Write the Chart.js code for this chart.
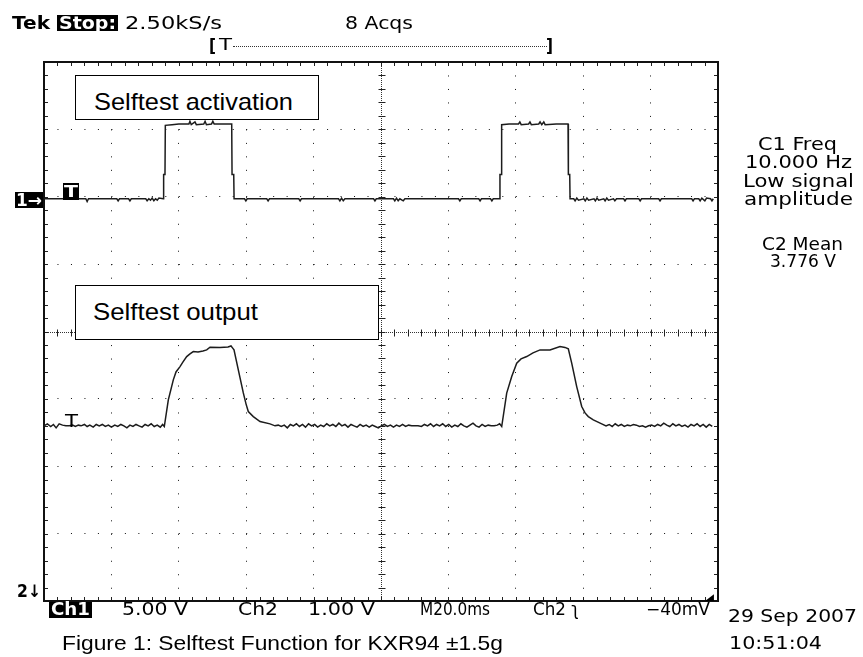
<!DOCTYPE html>
<html><head><meta charset="utf-8">
<script src="https://cdn.jsdelivr.net/npm/chart.js@4/dist/chart.umd.min.js"></script>
<style>
html,body{margin:0;padding:0;background:#fff;}
#wrap{position:relative;width:863px;height:657px;overflow:hidden;background:#fff;}
#c{position:absolute;left:0;top:0;}
.t{position:absolute;white-space:nowrap;line-height:1;transform-origin:0 0;color:#000;}
.blk{position:absolute;background:#000;}
.box{position:absolute;background:#fff;border:1.5px solid #000;box-sizing:border-box;}
.dots{position:absolute;border-top:1px dotted #333;height:0;}
</style></head>
<body><div id="wrap"><canvas id="c" width="863" height="657"></canvas></div>
<script>
// ---------------- data (time in ms, level in screen divisions) ----------------
const ch1Ms = [0,5,9,12.4,12.8,13.2,17,21.6,22,22.4,25.1,25.5,25.9,30.2,30.6,31.1,31.6,32.1,32.6,33.1,33.6,34.1,35.4,35.5,35.9,36.0,38,40,43,43.3,43.7,44.8,45.2,47.4,47.8,48.2,49.7,50.1,50.5,53,55.7,55.8,56.3,56.4,59.5,59.9,60.3,66.1,66.5,66.9,75.6,76,76.4,80,87.4,87.8,88.3,88.8,89.3,97.8,98.2,98.6,103.7,104.1,104.6,105.1,105.6,106.6,107.1,115,123,123.4,123.8,129,129.4,129.8,132.5,132.9,133.3,135.2,135.3,135.7,135.8,138,140.8,141.2,141.6,143.8,144.2,144.6,146.8,147.2,147.7,148.3,148.7,152,155.5,155.6,156.0,156.1,157.2,157.6,158.1,158.6,160.2,160.6,161.1,161.6,163.2,163.6,164.1,164.6,166.1,166.5,167,167.5,169,169.4,169.9,172,172.4,172.8,176.5,176.9,177.3,182.4,182.8,183.2,192.2,192.6,193,194.3,194.7,195.2,196.1,196.6,197.8,198.2,198.6];
const ch1Div = [1.97,1.97,1.97,1.97,1.93,1.97,1.97,1.97,1.94,1.97,1.97,1.94,1.97,1.97,1.94,1.97,1.95,1.98,1.94,1.97,1.95,1.98,1.97,2.33,2.33,3.06,3.07,3.08,3.08,3.12,3.07,3.11,3.07,3.08,3.12,3.07,3.08,3.12,3.08,3.08,3.08,2.33,2.33,1.97,1.97,1.94,1.97,1.97,1.94,1.97,1.97,1.94,1.97,1.97,1.97,1.94,1.98,1.94,1.97,1.97,1.94,1.97,1.97,1.94,1.98,1.94,1.97,1.94,1.97,1.97,1.97,1.94,1.97,1.97,1.94,1.97,1.97,1.94,1.97,1.97,2.33,2.33,3.07,3.08,3.08,3.11,3.07,3.08,3.11,3.07,3.08,3.11,3.07,3.11,3.07,3.08,3.08,2.33,2.33,1.97,1.97,1.94,1.98,1.95,1.97,1.94,1.98,1.95,1.97,1.94,1.98,1.95,1.97,1.94,1.98,1.95,1.97,1.94,1.97,1.97,1.94,1.97,1.97,1.94,1.97,1.97,1.94,1.97,1.97,1.94,1.97,1.97,1.94,1.98,1.94,1.98,1.97,1.94,1.97];

const ch2Ms = [0,1,2,2.8,3.6,4.5,5.5,6.5,7.5,8.5,9.3,10.2,11,12,12.8,13.6,14.6,15.5,16.4,17.3,18.2,19.1,20,21,21.9,22.8,23.7,24.6,25.5,26.4,27.3,28.2,29.1,30,30.9,31.8,32.7,33.6,34.5,35.2,35.7,
  36.89,38.37,39.17,40.36,41.25,42.34,43.32,44.30,45.70,47.18,48.28,49.26,52.23,54.60,55.49,55.94,56.38,57.66,59.14,59.94,60.62,62.11,64.10,67.06,
  68.55,69.5,70.4,71.3,72.2,73.1,74,74.9,75.8,76.7,77.6,78.5,79.4,80.3,81.2,82.1,83,83.9,84.8,85.7,86.6,87.5,88.4,89.3,90.2,91.1,92,92.9,93.8,94.7,95.6,96.5,97.4,98.3,99.2,100.1,101,101.9,102.8,103.7,104.6,105.5,106.4,107.3,108.2,109.1,110,111,112,112.9,113.8,114.7,115.6,116.5,117.4,118.3,119.2,120.1,121,121.9,122.8,123.7,124.6,125.5,126.4,127.3,128.2,129.1,130,130.9,131.8,132.7,133.6,134.5,135.2,135.82,
  137.30,138.79,140.27,141.55,143.24,145.11,147.19,150.15,153.12,154.60,155.58,156.59,158.07,159.56,160.54,161.52,163.00,165.49,
  166.77,167.7,168.6,169.5,170.4,171.3,172.2,173.1,174,174.9,175.8,176.7,177.6,178.5,179.4,180.3,181.2,182.1,183,183.9,184.8,185.7,186.6,187.5,188.4,189.3,190.2,191.1,192,192.9,193.8,194.7,195.6,196.5,197.4,198.3];
const ch2Div = [-1.40,-1.37,-1.41,-1.38,-1.43,-1.37,-1.39,-1.40,-1.40,-1.39,-1.41,-1.39,-1.40,-1.38,-1.41,-1.39,-1.42,-1.38,-1.40,-1.38,-1.41,-1.39,-1.42,-1.39,-1.41,-1.38,-1.40,-1.43,-1.39,-1.41,-1.38,-1.40,-1.42,-1.38,-1.40,-1.37,-1.41,-1.39,-1.42,-1.38,-1.41,
  -1.015,-0.718,-0.60,-0.521,-0.451,-0.372,-0.332,-0.298,-0.303,-0.288,-0.273,-0.233,-0.236,-0.229,-0.214,-0.243,-0.273,-0.570,-0.911,-1.074,-1.188,-1.263,-1.337,-1.371,
  -1.40,-1.39,-1.41,-1.39,-1.43,-1.38,-1.40,-1.37,-1.41,-1.38,-1.42,-1.37,-1.40,-1.38,-1.42,-1.39,-1.41,-1.37,-1.40,-1.38,-1.41,-1.36,-1.40,-1.38,-1.42,-1.38,-1.40,-1.42,-1.38,-1.41,-1.39,-1.42,-1.39,-1.41,-1.43,-1.40,-1.38,-1.41,-1.39,-1.42,-1.39,-1.41,-1.38,-1.41,-1.39,-1.40,-1.40,-1.40,-1.41,-1.38,-1.40,-1.37,-1.41,-1.38,-1.40,-1.37,-1.41,-1.38,-1.42,-1.39,-1.41,-1.37,-1.40,-1.42,-1.39,-1.36,-1.40,-1.42,-1.38,-1.41,-1.39,-1.40,-1.40,-1.39,-1.37,-1.41,
  -0.915,-0.669,-0.470,-0.407,-0.372,-0.318,-0.273,-0.273,-0.224,-0.236,-0.258,-0.470,-0.818,-1.114,-1.208,-1.263,-1.312,-1.371,
  -1.40,-1.38,-1.41,-1.37,-1.40,-1.38,-1.41,-1.39,-1.40,-1.38,-1.39,-1.41,-1.40,-1.42,-1.40,-1.39,-1.41,-1.38,-1.40,-1.36,-1.39,-1.41,-1.37,-1.40,-1.38,-1.41,-1.39,-1.42,-1.38,-1.40,-1.37,-1.41,-1.38,-1.42,-1.38,-1.41];

const timeRangeMs = [0, 200];      // 10 divisions x 20 ms
const divRange = [-4, 4];          // 8 vertical divisions
const majorStepMs = 20, minorStepMs = 4, majorStepDiv = 1, minorStepDiv = 0.2;

const headerLabels = ['Tek', 'Stop:', '2.50kS/s', '8 Acqs'];
const readoutLabels = ['Ch1', '5.00 V', 'Ch2', '1.00 V', 'M20.0ms', 'Ch2 \u0285', '\u221240mV'];
const measLabels = ['C1 Freq', '10.000 Hz', 'Low signal', 'amplitude', 'C2 Mean', '3.776 V'];
const noteLabels = ['Selftest activation', 'Selftest output'];
const captionLabel = 'Figure 1: Selftest Function for KXR94 \u00B11.5g';
const dateLabels = ['29 Sep 2007', '10:51:04'];

// ---------------- chart ----------------
const graticule = {
  id: 'graticule',
  beforeDatasetsDraw(chart) {
    const {ctx, chartArea: a, scales: {x, y}} = chart;
    ctx.save();
    const px = v => Math.round(x.getPixelForValue(v)) + 0.5;
    const py = v => Math.round(y.getPixelForValue(v)) + 0.5;
    const cx = px(100), cy = py(0);
    ctx.strokeStyle = '#333'; ctx.lineWidth = 1;
    ctx.setLineDash([1, 1]);
    ctx.beginPath();
    ctx.moveTo(a.left, cy); ctx.lineTo(a.right, cy);
    ctx.moveTo(cx, a.top); ctx.lineTo(cx, a.bottom);
    ctx.stroke();
    ctx.setLineDash([]);
    ctx.strokeStyle = '#222';
    ctx.beginPath();
    for (let v = timeRangeMs[0]; v <= timeRangeMs[1] + 0.001; v += minorStepMs) {
      const p = px(v);
      ctx.moveTo(p, cy - 3); ctx.lineTo(p, cy + 4);
      ctx.moveTo(p, a.top); ctx.lineTo(p, a.top + 4);
      ctx.moveTo(p, a.bottom); ctx.lineTo(p, a.bottom - 4);
    }
    for (let i = 0; i <= 40; i++) {
      const p = py(divRange[0] + i * minorStepDiv);
      ctx.moveTo(cx - 3, p); ctx.lineTo(cx + 4, p);
      ctx.moveTo(a.left, p); ctx.lineTo(a.left + 4, p);
      ctx.moveTo(a.right, p); ctx.lineTo(a.right - 4, p);
    }
    ctx.stroke();
    ctx.lineWidth = 2; ctx.strokeStyle = '#111';
    ctx.strokeRect(a.left, a.top, a.right - a.left, a.bottom - a.top);
    ctx.restore();
  }
};

const gridColor = c => (c.tick && (c.tick.value === 100 && c.scale.axis === 'x' || c.tick.value === 0 && c.scale.axis === 'y')) ? 'rgba(0,0,0,0)' : '#111';

new Chart(document.getElementById('c'), {
  type: 'line',
  data: {
    datasets: [
      {label: 'Ch1', data: ch1Ms.map((t, i) => ({x: t, y: ch1Div[i]})), borderColor: '#1c1c1c', borderWidth: 1.5, pointRadius: 0, tension: 0, fill: false},
      {label: 'Ch2', data: ch2Ms.map((t, i) => ({x: t, y: ch2Div[i]})), borderColor: '#1c1c1c', borderWidth: 1.5, pointRadius: 0, tension: 0, fill: false}
    ]
  },
  options: {
    responsive: false, animation: false, devicePixelRatio: 1,
    layout: {padding: {left: 44, top: 62, right: 145, bottom: 56}},
    plugins: {legend: {display: false}, tooltip: {enabled: false}, title: {display: false}},
    scales: {
      x: {type: 'linear', min: timeRangeMs[0], max: timeRangeMs[1],
          ticks: {display: false, stepSize: majorStepMs},
          grid: {color: gridColor, lineWidth: 1, drawTicks: false},
          border: {display: false, dash: [1, 12.48]}},
      y: {type: 'linear', min: divRange[0], max: divRange[1],
          ticks: {display: false, stepSize: majorStepDiv},
          grid: {color: gridColor, lineWidth: 1, drawTicks: false},
          border: {display: false, dash: [1, 12.48]}}
    }
  },
  plugins: [graticule]
});

// ---------------- text overlays ----------------
const wrap = document.getElementById('wrap');
const SCOPE = '"DejaVu Sans", sans-serif';
const ARIAL = '"Liberation Sans", Arial, sans-serif';
function rect(cls, x, y, w, h) {
  const d = document.createElement('div'); d.className = cls;
  Object.assign(d.style, {left: x + 'px', top: y + 'px', width: w + 'px', height: h + 'px'});
  wrap.appendChild(d); return d;
}
function put(txt, x, base, w, size, fam, weight, color, align) {
  const s = document.createElement('span'); s.className = 't'; s.textContent = txt;
  Object.assign(s.style, {fontFamily: fam, fontSize: size + 'px', fontWeight: weight || 'normal', color: color || '#000'});
  wrap.appendChild(s);
  const nat = s.getBoundingClientRect().width;
  const sx = w ? w / nat : 1;
  const left = align === 'c' ? x - (w || nat) / 2 : x;
  s.style.left = left + 'px';
  s.style.top = (base - 0.846 * size) + 'px';
  s.style.transform = 'scaleX(' + sx + ')';
}

// header
put(headerLabels[0], 12, 29, 38, 18, SCOPE, 'bold');
rect('blk', 57, 15, 61, 16);
put(headerLabels[1], 59, 29, 57, 18, SCOPE, 'bold', '#fff');
put(headerLabels[2], 125, 29, 97, 18, SCOPE);
put(headerLabels[3], 345, 29, 68, 18, SCOPE);
// trigger position bracket
put('[', 209, 52, 7, 18, SCOPE, 'bold');
put('T', 219, 51, 13, 16, SCOPE);
rect('dots', 233, 46, 314, 0);
put(']', 546, 52, 7, 18, SCOPE, 'bold');
// channel markers
rect('blk', 15, 192, 28, 16);
put('1\u2192', 16, 206, 26, 17, SCOPE, 'bold', '#fff');
rect('blk', 63, 183, 16, 17);
put('T', 64, 198, 14, 16, SCOPE, 'bold', '#fff');
put('T', 65, 427, 13, 17, SCOPE);
put('2\u2193', 17, 597, 24, 17, SCOPE, 'bold');
put('\u25E2', 705, 601, 9, 9, SCOPE);
// measurement readouts
put(measLabels[0], 797.5, 150, 79, 18, SCOPE, 'normal', '#000', 'c');
put(measLabels[1], 798.5, 168, 107, 18, SCOPE, 'normal', '#000', 'c');
put(measLabels[2], 798.5, 187, 111, 18, SCOPE, 'normal', '#000', 'c');
put(measLabels[3], 798.5, 205, 109, 18, SCOPE, 'normal', '#000', 'c');
put(measLabels[4], 802.5, 250, 81, 18, SCOPE, 'normal', '#000', 'c');
put(measLabels[5], 803, 267, 66, 18, SCOPE, 'normal', '#000', 'c');
// bottom readout row
rect('blk', 49, 602, 43, 16);
put(readoutLabels[0], 51, 615, 39, 17, SCOPE, 'bold', '#fff');
put(readoutLabels[1], 122, 615, 66, 17, SCOPE);
put(readoutLabels[2], 238, 615, 40, 17, SCOPE);
put(readoutLabels[3], 308, 615, 67, 17, SCOPE);
put(readoutLabels[4], 420, 615, 70, 17, SCOPE);
put(readoutLabels[5], 533, 615, 46, 17, SCOPE);
put(readoutLabels[6], 646, 615, 64, 17, SCOPE);
put(dateLabels[0], 728, 622, 129, 18, SCOPE);
put(dateLabels[1], 729, 649, 93, 18, SCOPE);
// caption
put(captionLabel, 62, 650, 441, 21, ARIAL);
// annotation boxes
rect('box', 75, 75, 244, 45);
put(noteLabels[0], 94, 110, 199, 24, ARIAL);
rect('box', 75, 285, 304, 55);
put(noteLabels[1], 93, 320, 165, 24, ARIAL);
</script></body></html>
